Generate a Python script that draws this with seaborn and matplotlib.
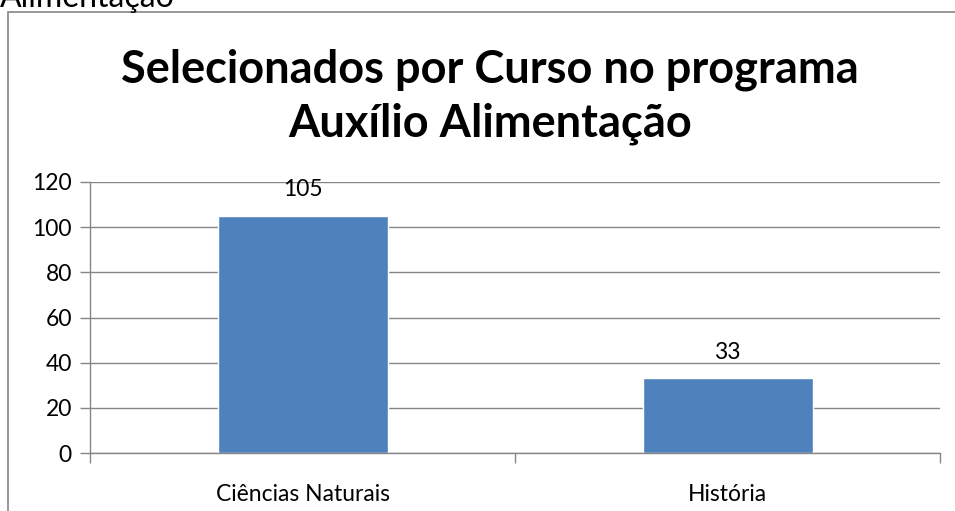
import matplotlib
matplotlib.use("Agg")
import matplotlib.pyplot as plt
import seaborn as sns
import pandas as pd
from matplotlib.patches import Rectangle

cursos = ["Ciências Naturais", "História"]
selecionados = [105, 33]
y_ticks = [0, 20, 40, 60, 80, 100, 120]

sns.set_style("white")
plt.rcParams["font.family"] = ["Lato", "DejaVu Sans"]
plt.rcParams["text.color"] = "black"
plt.rcParams["xtick.labelcolor"] = "black"
plt.rcParams["ytick.labelcolor"] = "black"

GRAY = "#868686"
BLUE = "#4F81BD"

df = pd.DataFrame({"curso": cursos, "n": selecionados})

fig = plt.figure(figsize=(9.55, 5.11), dpi=100)
ax = fig.add_axes([90 / 955, 1 - 453 / 511, 850 / 955, 271 / 511])

sns.barplot(data=df, x="curso", y="n", color=BLUE, saturation=1, width=0.4, ax=ax)

ax.set_ylim(0, 120)
ax.set_xlim(-0.5, len(cursos) - 0.5)
ax.set_yticks(y_ticks)
ax.yaxis.grid(True, color=GRAY, linewidth=1)
ax.set_axisbelow(True)
ax.set_xlabel("")
ax.set_ylabel("")

for s in ["top", "right"]:
    ax.spines[s].set_visible(False)
for s in ["left", "bottom"]:
    ax.spines[s].set_color(GRAY)
    ax.spines[s].set_linewidth(1)

ax.tick_params(axis="y", length=7, color=GRAY, width=1, labelsize=16.5, pad=6, left=True)
ax.tick_params(axis="x", which="major", length=0, labelsize=16.5, pad=22)
ax.set_xticks([i - 0.5 for i in range(len(cursos) + 1)], minor=True)
ax.tick_params(axis="x", which="minor", length=7, color=GRAY, width=1, bottom=True)

for i, v in enumerate(selecionados):
    ax.text(i, v + 7, str(v), ha="center", va="bottom", fontsize=16.5, color="black")

fig.text(490 / 955, 1 - 97 / 511, "Selecionados por Curso no programa\nAuxílio Alimentação",
         ha="center", va="center", fontsize=32.5, fontweight="bold", linespacing=1.35,
         color="black")

# chart frame, partly cut off by the page edge
fig.patches.append(Rectangle((8 / 955, -0.1), 1.2, 1.1 - 12 / 511, transform=fig.transFigure,
                             fill=False, edgecolor=GRAY, linewidth=1.2))
# caption cut at the top edge
fig.text(0.0, 1.0 + 2 / 511, "Alimentação", ha="left", va="center", fontsize=23, color="black")

fig.savefig("out.png", dpi=100)
